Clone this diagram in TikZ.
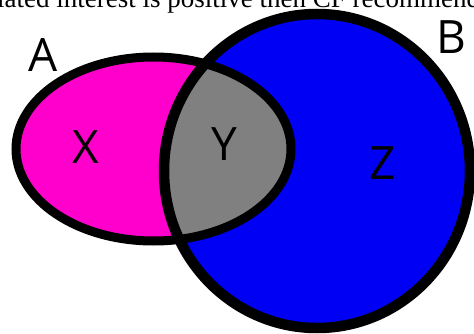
\documentclass[tikz,border=0pt]{standalone}
\usepackage{fontspec}
\setmainfont{Liberation Serif}
\newfontfamily\vennfont{Open Sans}
\definecolor{setpink}{RGB}{255,0,204}
\definecolor{setblue}{RGB}{0,0,245}
\definecolor{setgray}{RGB}{128,128,128}
\tikzset{
  setlabel/.style={font=\vennfont\fontsize{46}{46}\selectfont, inner sep=0pt},
  rimA/.style={draw=black, line width=9pt},
  rimB/.style={draw=black, line width=10.5pt}
}
\begin{document}
\begin{tikzpicture}[x=1pt,y=-1pt]
\useasboundingbox (0,0) rectangle (474,334);
\clip (0,0) rectangle (474,334);
% caption line cut off above the picture
\node[anchor=base west, inner sep=0pt, font=\fontsize{27}{27}\selectfont] (cap) at (-60,8)
  {calculated interest is positive then CF recommendation};
% the two sets
\fill[setpink] (153.5,149) ellipse [x radius=137.5pt, y radius=92pt];
\fill[setblue] (317,171) ellipse [x radius=153pt, y radius=157pt];
\begin{scope}
\clip (153.5,149) ellipse [x radius=137.5pt, y radius=92pt];
\fill[setgray] (317,171) ellipse [x radius=153pt, y radius=157pt];
\end{scope}
\draw[rimA] (153.5,149) ellipse [x radius=137.5pt, y radius=92pt];
\draw[rimB] (317,171) ellipse [x radius=153pt, y radius=157pt];
% labels
\node[setlabel] (la) at (43,55) {A};
\node[setlabel] (lb) at (451,37) {B};
\node[setlabel] (lx) at (86,147) {X};
\node[setlabel] (ly) at (224,144) {Y};
\node[setlabel] (lz) at (383,163) {Z};
\end{tikzpicture}
\end{document}
